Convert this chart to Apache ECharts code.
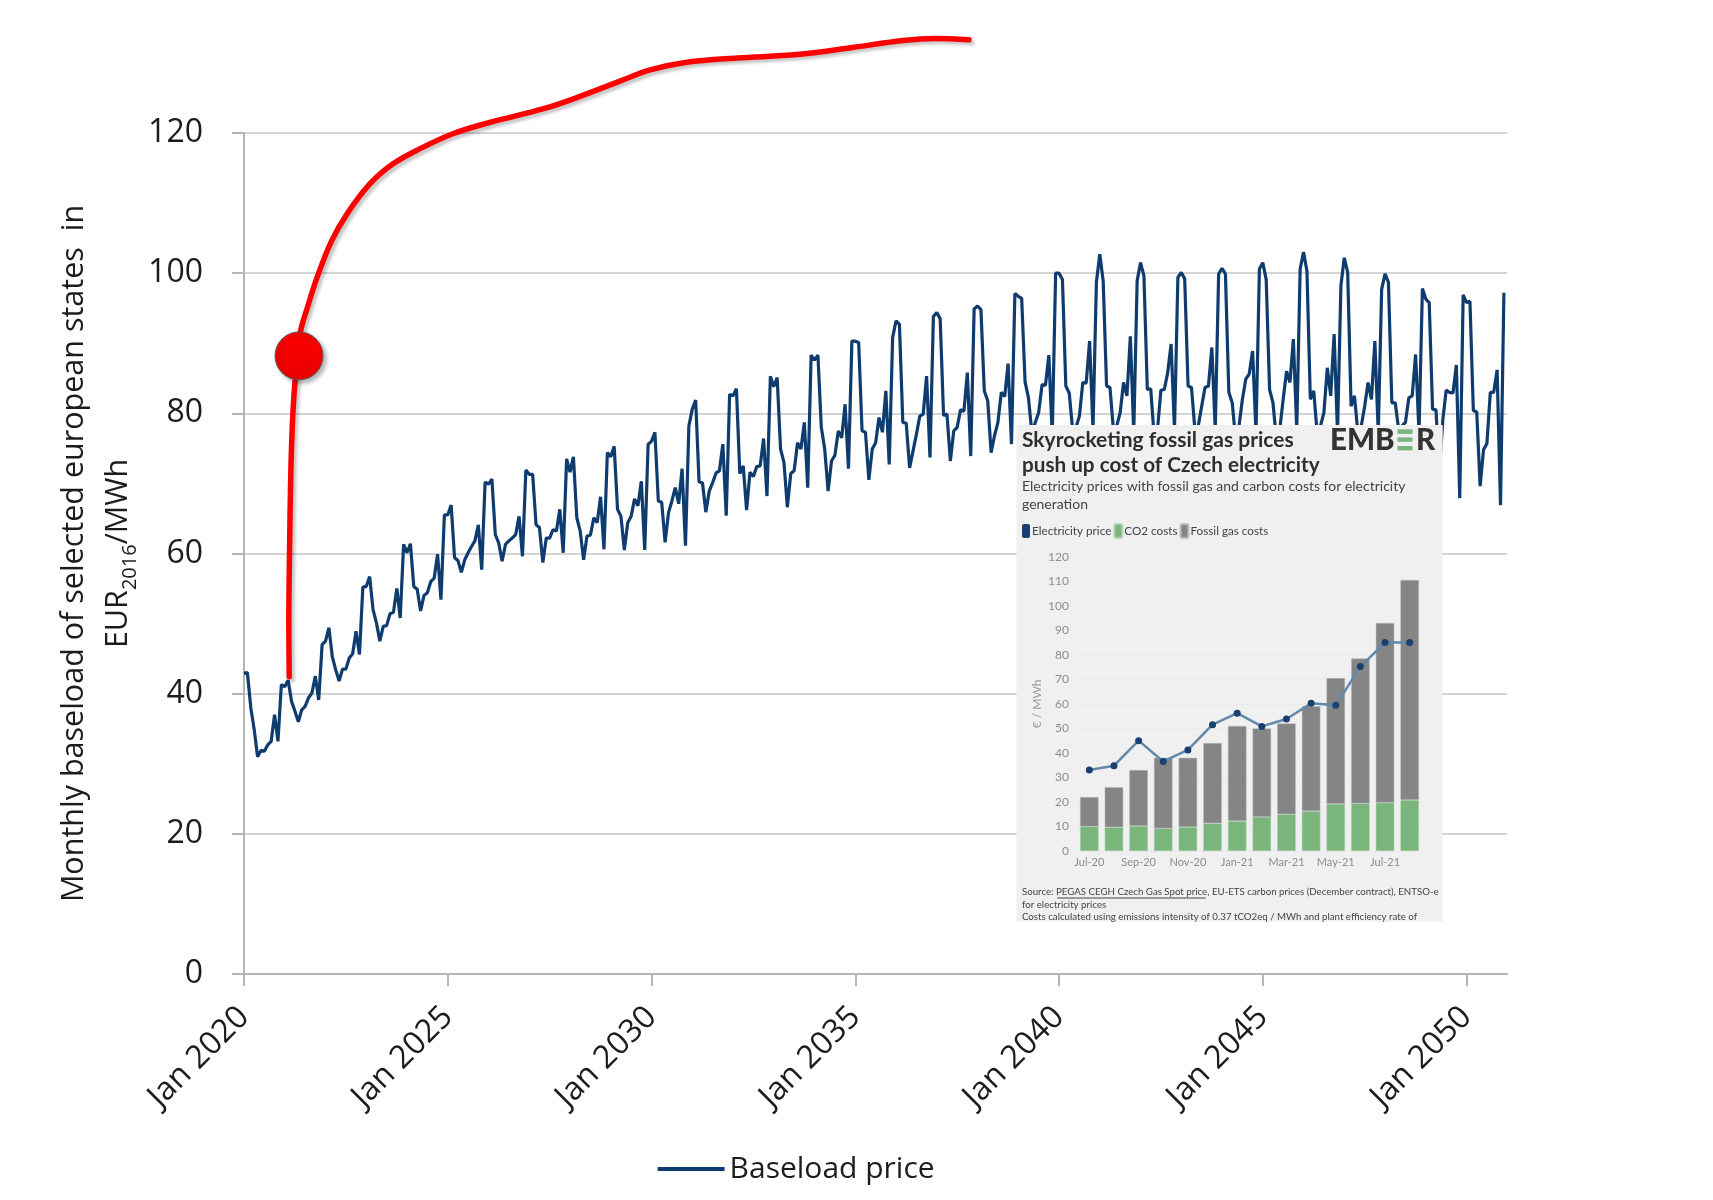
<!DOCTYPE html>
<html><head><meta charset="utf-8">
<style>html,body{margin:0;padding:0;background:#fff}#c{width:1713px;height:1200px}</style>
<script src="https://cdn.jsdelivr.net/npm/echarts@6/dist/echarts.min.js"></script>
</head><body><div id="c"></div>
<script>
const MONTHS = ['Jan','Feb','Mar','Apr','May','Jun','Jul','Aug','Sep','Oct','Nov','Dec'];
const monthLabels = [];
for (let y = 2020; y <= 2050; y++) MONTHS.forEach(m => monthLabels.push(m + ' ' + y));
monthLabels.push('Jan 2051');

const baseloadPrice = [
42.9,43.0,38.0,34.9,31.0,31.9,31.8,32.7,33.2,37.0,33.2,41.3,
41.0,41.9,38.9,37.5,36.0,37.7,38.2,39.4,40.1,42.5,39.1,47.0,
47.5,49.4,45.3,43.4,41.8,43.5,43.5,45.1,45.7,48.9,45.6,55.2,
55.3,56.7,52.0,50.1,47.5,49.6,49.7,51.4,51.6,55.0,50.8,61.3,
60.1,61.4,55.3,54.9,51.8,54.0,54.4,56.0,56.5,59.9,53.4,65.5,
65.5,66.9,59.4,59.0,57.3,59.1,60.1,61.0,61.8,64.1,57.7,70.2,
69.9,70.6,62.7,61.5,58.9,61.3,61.8,62.2,62.7,65.3,59.6,71.9,
71.3,71.3,64.1,63.7,58.7,62.2,62.2,63.4,63.2,66.3,60.1,73.5,
71.6,73.8,65.1,63.2,59.1,62.5,62.6,65.1,64.4,68.1,60.6,74.4,
73.8,75.3,66.3,65.3,60.5,64.4,65.3,67.8,66.8,70.3,60.5,75.6,
76.0,77.3,67.5,67.3,61.6,65.8,67.5,69.4,67.1,72.1,61.1,78.2,
80.6,81.9,70.2,70.1,65.9,68.9,70.1,71.5,71.8,75.6,65.4,82.7,
82.5,83.5,71.4,72.5,66.2,71.6,71.0,72.4,72.5,76.4,68.2,85.3,
83.8,85.1,74.9,73.0,66.6,71.4,71.8,75.8,74.9,78.7,69.4,88.3,
87.6,88.3,78.0,74.9,68.9,73.2,74.0,77.5,76.5,81.3,72.1,90.3,
90.3,90.1,77.5,77.3,70.5,74.9,75.8,79.4,77.3,83.2,72.7,90.8,
93.2,92.7,78.7,78.6,72.2,74.6,77.0,79.6,79.9,85.3,73.7,93.8,
94.4,93.5,79.7,79.9,73.2,77.5,78.0,80.5,80.3,85.8,73.9,94.9,
95.3,94.8,83.2,81.8,74.4,76.8,78.7,83.0,82.4,87.1,75.6,97.1,
96.7,96.4,84.5,82.2,77.2,78.7,80.1,84.1,84.0,88.3,76.8,100.0,
100.0,99.1,83.9,82.9,77.7,78.0,79.6,84.4,84.3,90.3,77.7,98.7,
102.7,98.9,83.9,83.7,77.7,78.2,80.1,84.4,82.5,91.0,77.2,98.9,
101.5,99.6,83.4,83.5,76.8,77.7,83.3,83.4,85.8,89.9,77.7,99.4,
100.1,99.2,83.9,83.7,77.7,78.2,81.0,83.7,83.9,89.4,77.7,99.9,
100.7,99.9,83.0,81.5,76.3,78.2,82.0,84.9,85.6,88.9,77.2,100.6,
101.5,99.1,83.4,81.5,76.3,77.7,82.0,86.0,84.4,90.6,77.7,100.6,
103.0,100.3,82.0,83.2,77.2,78.2,80.1,86.5,82.5,91.3,77.2,98.2,
102.2,100.1,81.0,82.5,77.2,78.2,81.0,84.4,82.0,90.3,77.2,97.7,
99.9,98.7,81.5,81.5,77.7,78.2,78.7,82.2,82.5,88.4,77.2,97.8,
96.3,95.8,80.6,80.5,71.4,79.0,83.3,83.0,82.9,86.9,67.9,96.9,
95.8,96.0,80.4,80.2,69.6,74.8,75.7,83.0,83.0,86.2,66.9,97.2,
null];

// Hand-drawn red annotation: [months since Jan 2020, value]
const redCurveMonths = [13.3,13.2,13.4,13.8,14.4,15.2,16.6,18.6,21.6,25.7,30.4,37.2,43.9,52.0,61.5,72.3,88.5,99.4,110.2,119.6,130.4,145.3,162.9,179.1,194.0,203.5,213.5];
const redCurveValues = [42.4,50.5,60.1,71.9,80.1,85.5,91.6,95.0,99.5,104.5,108.5,112.8,115.6,117.8,119.9,121.5,123.5,125.3,127.3,129.0,130.1,130.7,131.2,132.2,133.2,133.5,133.3];
const redDotMonth = [16.2];
const redDotValue = [88.2];

// Inset (Ember) chart
const insetMonths = ['Jul-20','Aug-20','Sep-20','Oct-20','Nov-20','Dec-20','Jan-21','Feb-21','Mar-21','Apr-21','May-21','Jun-21','Jul-21','Aug-21'];
const insetCO2 = [10,9.7,10.2,9.2,9.8,11.3,12.2,13.9,15,16.3,19.2,19.4,19.7,20.8];
const insetGas = [12,16.3,22.8,28.8,28.2,32.7,38.8,36.1,37,42.7,51.3,59.1,73.3,89.7];
const insetPrice = [33,34.8,45,36.5,41.2,51.5,56.2,50.8,53.8,60.2,59.4,75.2,85,85];

const MAIN_FONT = 'Open Sans';
const INSET_FONT = 'Lato';
const INK = '#1c1c1c';
const txt = (text, x, y, size, weight, color) => ({
  type: 'text', z: 12, silent: true,
  style: { text, x, y, fontFamily: INSET_FONT, fontSize: size, fontWeight: weight, fill: color, verticalAlign: 'middle' }
});

const chart = echarts.init(document.getElementById('c'));
chart.setOption({
  animation: false,
  backgroundColor: '#fff',
  grid: [
    { left: 244, top: 133, width: 1263.3, height: 841 },
    { left: 1077, top: 556.7, width: 345, height: 294.3 }
  ],
  legend: [
    { data: ['Baseload price'], left: 652.6, top: 1149, icon: 'rect', itemWidth: 67, itemHeight: 4, itemGap: 8,
      textStyle: { fontFamily: MAIN_FONT, fontSize: 30, color: INK } },
    { data: ['Electricity price', 'CO2 costs', 'Fossil gas costs'], left: 1022, top: 523, padding: 0, z: 20, icon: 'roundRect',
      itemWidth: 8, itemHeight: 14, itemGap: 2,
      textStyle: { fontFamily: INSET_FONT, fontSize: 11.7, color: '#444', padding: [0, 0, 0, -3] } }
  ],
  xAxis: [
    { type: 'category', gridIndex: 0, data: monthLabels, boundaryGap: false,
      axisLine: { lineStyle: { color: '#b5b5b5', width: 2 } },
      axisTick: { length: 12, interval: i => i % 60 === 0, lineStyle: { color: '#b5b5b5', width: 2 } },
      axisLabel: { interval: i => i % 60 === 0, rotate: 45, margin: 38, fontFamily: MAIN_FONT, fontSize: 32, color: INK },
      splitLine: { show: false } },
    { type: 'value', gridIndex: 0, min: 0, max: 372, show: false, splitLine: { show: false } },
    { type: 'category', gridIndex: 1, data: insetMonths, z: 20,
      axisLine: { show: false }, axisTick: { show: false },
      axisLabel: { interval: 1, margin: 6, fontFamily: INSET_FONT, fontSize: 11, color: '#8c8c8c' },
      splitLine: { show: false } }
  ],
  yAxis: [
    { type: 'value', gridIndex: 0, min: 0, max: 120, interval: 20,
      name: 'Monthly baseload of selected european states  in\nEUR{sub|2016}/MWh',
      nameLocation: 'middle', nameRotate: 90, nameGap: 104, nameMoveOverlap: false,
      nameTextStyle: { fontFamily: MAIN_FONT, fontSize: 30.5, color: INK, lineHeight: 44, align: 'center',
        rich: { sub: { fontFamily: MAIN_FONT, fontSize: 20, color: INK, verticalAlign: 'bottom', lineHeight: 44, padding: [10, 0, 0, 0] } } },
      axisLine: { show: true, lineStyle: { color: '#b5b5b5', width: 2 } },
      axisTick: { show: true, length: 12, lineStyle: { color: '#b5b5b5', width: 2 } },
      axisLabel: { margin: 41, fontFamily: MAIN_FONT, fontSize: 32, color: INK },
      splitLine: { show: true, lineStyle: { color: '#d4d4d4', width: 2 } } },
    { type: 'value', gridIndex: 1, min: 0, max: 120, interval: 10, z: 20,
      name: '€ / MWh', nameLocation: 'middle', nameRotate: 90, nameGap: 34, nameMoveOverlap: false,
      nameTextStyle: { fontFamily: INSET_FONT, fontSize: 12, color: '#999' },
      axisLine: { show: false }, axisTick: { show: false },
      axisLabel: { margin: 8, fontFamily: INSET_FONT, fontSize: 12, color: '#8c8c8c' },
      splitLine: { show: true, lineStyle: { color: '#e6e6e6', width: 1, type: 'dotted' } } }
  ],
  graphic: { elements: [
    { type: 'rect', z: 10, silent: true, shape: { x: 1016.5, y: 425, width: 426.2, height: 496.7 }, style: { fill: '#f0f0f0' } },
    txt('Skyrocketing fossil gas prices', 1022, 440, 21, 700, '#2e2e2e'),
    txt('push up cost of Czech electricity', 1022, 465, 20.7, 700, '#2e2e2e'),
    txt('Electricity prices with fossil gas and carbon costs for electricity', 1022, 486, 14, 400, '#444'),
    txt('generation', 1022, 504, 14, 400, '#444'),
    txt('EMB', 1330, 440, 29.5, 900, '#333'),
    { type: 'rect', z: 12, silent: true, shape: { x: 1397.5, y: 429.3, width: 15, height: 4.6 }, style: { fill: '#7ab57c' } },
    { type: 'rect', z: 12, silent: true, shape: { x: 1397.5, y: 437.4, width: 15, height: 4.4 }, style: { fill: '#7ab57c' } },
    { type: 'rect', z: 12, silent: true, shape: { x: 1397.5, y: 446, width: 15, height: 4.4 }, style: { fill: '#7ab57c' } },
    txt('R', 1416, 440, 29.5, 900, '#333'),
    txt('Source: PEGAS CEGH Czech Gas Spot price, EU-ETS carbon prices (December contract), ENTSO-e', 1022, 892, 9.7, 400, '#444'),
    { type: 'line', z: 12, silent: true, shape: { x1: 1057.3, y1: 898, x2: 1205.7, y2: 898 }, style: { stroke: '#444', lineWidth: 1 } },
    txt('for electricity prices', 1022, 905, 9.7, 400, '#444'),
    txt('Costs calculated using emissions intensity of 0.37 tCO2eq / MWh and plant efficiency rate of', 1022, 917, 9.7, 400, '#444')
  ]},
  series: [
    { name: 'Baseload price', type: 'line', xAxisIndex: 0, yAxisIndex: 0, z: 2, data: baseloadPrice,
      showSymbol: false, symbol: 'none', connectNulls: false, itemStyle: { color: '#0f3c6e' },
      lineStyle: { color: '#0f3c6e', width: 3.2 } },
    { name: 'Red curve', type: 'line', xAxisIndex: 1, yAxisIndex: 0, z: 3, clip: false, smooth: 0.35, symbol: 'none',
      data: redCurveMonths.map((m, i) => [m, redCurveValues[i]]),
      lineStyle: { color: '#ff0000', width: 5.5, cap: 'round', shadowColor: 'rgba(0,0,0,0.22)', shadowBlur: 3, shadowOffsetX: 3, shadowOffsetY: 3 } },
    { name: 'Red dot', type: 'scatter', xAxisIndex: 1, yAxisIndex: 0, z: 4, clip: false, symbolSize: 48,
      data: redDotMonth.map((m, i) => [m, redDotValue[i]]),
      itemStyle: { opacity: 1, color: { type: 'linear', x: 0, y: 0, x2: 0, y2: 1, colorStops: [{ offset: 0, color: '#ff0000' }, { offset: 1, color: '#e80000' }] },
        borderColor: '#5a5a5a', borderWidth: 1, shadowColor: 'rgba(0,0,0,0.3)', shadowBlur: 4, shadowOffsetX: 3, shadowOffsetY: 3 } },
    { name: 'Electricity price', type: 'line', xAxisIndex: 2, yAxisIndex: 1, z: 22, data: insetPrice, symbol: 'circle', symbolSize: 7,
      itemStyle: { color: '#1a4070' }, lineStyle: { color: '#6288ab', width: 2.5 } },
    { name: 'CO2 costs', type: 'bar', xAxisIndex: 2, yAxisIndex: 1, z: 20, stack: 'cost', barWidth: 18.5, data: insetCO2,
      itemStyle: { color: '#7ab57c', borderColor: '#b4d4b5', borderWidth: 0.5 } },
    { name: 'Fossil gas costs', type: 'bar', xAxisIndex: 2, yAxisIndex: 1, z: 20, stack: 'cost', barWidth: 18.5, data: insetGas,
      itemStyle: { color: '#858585', borderColor: '#bdbdbd', borderWidth: 0.5 } }
  ]
});
</script></body></html>
